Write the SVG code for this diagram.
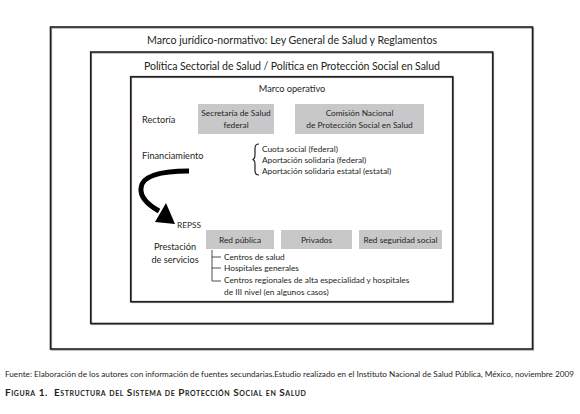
<svg xmlns="http://www.w3.org/2000/svg" width="580" height="414" viewBox="0 0 580 414">
<style>
.frame{fill:none;stroke:#231f20;stroke-width:1.6}
.shadow{fill:none;stroke:#9a9a9a;stroke-width:1.2}
.gbox{fill:#c8c8ca}
text{font-family:Lato,"Open Sans","Liberation Sans",sans-serif;fill:#231f20}
.t1{font-size:10.6px}
.t2{font-size:9.2px}
.t3{font-size:8.3px}
.mid{text-anchor:middle}
.tree{stroke:#231f20;stroke-width:0.8;fill:none}
</style>
<rect width="580" height="414" fill="#fff"/>
<g id="marco-juridico">
<rect class="shadow" x="51.5" y="28" width="482" height="322"/>
<rect class="frame" x="50.5" y="27" width="482" height="322"/>
<text class="t1 mid" x="292" y="44" textLength="290">Marco jurídico-normativo: Ley General de Salud y Reglamentos</text>
</g>
<g id="politica">
<rect class="shadow" x="91.5" y="53" width="402" height="271.5"/>
<rect class="frame" x="90.7" y="52" width="402" height="271.5"/>
<text class="t1 mid" x="292" y="70" textLength="296">Política Sectorial de Salud / Política en Protección Social en Salud</text>
</g>
<g id="marco-operativo">
<rect class="shadow" x="131.5" y="77.5" width="322" height="225"/>
<rect class="frame" x="130.7" y="76.7" width="322" height="225"/>
<text class="t2 mid" x="292" y="92">Marco operativo</text>
</g>
<g id="rectoria">
<text class="t2" x="142" y="123">Rectoría</text>
</g>
<g id="secretaria">
<rect class="gbox" x="198" y="104" width="76" height="30"/>
<text class="t3 mid" x="236" y="116">Secretaría de Salud</text>
<text class="t3 mid" x="236" y="128">federal</text>
</g>
<g id="comision">
<rect class="gbox" x="295" y="104" width="129" height="30"/>
<text class="t3 mid" x="359.5" y="116">Comisión Nacional</text>
<text class="t3 mid" x="359.5" y="128">de Protección Social en Salud</text>
</g>
<g id="financiamiento">
<text class="t2" x="142" y="159">Financiamiento</text>
</g>
<g id="fuentes">
<path d="M259,144 Q255,144 255,148 L255,155 Q255,159 252.5,159.5 Q255,160 255,164 L255,171 Q255,175 259,175" fill="none" stroke="#231f20" stroke-width="1.2"/>
<text class="t3" x="262" y="152">Cuota social (federal)</text>
<text class="t3" x="262" y="163">Aportación solidaria (federal)</text>
<text class="t3" x="262" y="174">Aportación solidaria estatal (estatal)</text>
</g>
<g id="repss">
<text class="t3" x="177" y="228">REPSS</text>
</g>
<g id="prestacion">
<text class="t2 mid" x="175" y="250">Prestación</text>
<text class="t2 mid" x="175" y="263">de servicios</text>
</g>
<g id="red-publica">
<rect class="gbox" x="206" y="230" width="68" height="19"/>
<text class="t3 mid" x="240" y="243">Red pública</text>
</g>
<g id="privados">
<rect class="gbox" x="281" y="230" width="71" height="19"/>
<text class="t3 mid" x="316.5" y="243">Privados</text>
</g>
<g id="red-seguridad">
<rect class="gbox" x="359" y="230" width="83" height="19"/>
<text class="t3 mid" x="400.5" y="243">Red seguridad social</text>
</g>
<g id="niveles">
<text class="t3" x="224" y="260">Centros de salud</text>
<text class="t3" x="224" y="271">Hospitales generales</text>
<text class="t3" x="224" y="283">Centros regionales de alta especialidad y hospitales</text>
<text class="t3" x="224" y="295">de III nivel (en algunos casos)</text>
</g>
<g id="connectors">
<path class="tree" d="M212,250 L212,281 L221,281 M212,257 L221,257 M212,268 L221,268"/>
<path d="M189,171 C165,171 142,174 141,188 C140,198 150,206 159,211" fill="none" stroke="#000" stroke-width="5"/>
<polygon points="166,203 155,222 175,224" fill="#000"/>
</g>
<g id="caption">
<text x="5" y="377" font-size="8.2" textLength="569" lengthAdjust="spacingAndGlyphs">Fuente: Elaboración de los autores con información de fuentes secundarias.Estudio realizado en el Instituto Nacional de Salud Pública, México, noviembre 2009</text>
<text x="5" y="396" font-size="10" font-weight="bold" style="font-variant:small-caps" letter-spacing="0.55">Figura 1.<tspan dx="6">Estructura del Sistema de Protección Social en Salud</tspan></text>
</g>
</svg>
